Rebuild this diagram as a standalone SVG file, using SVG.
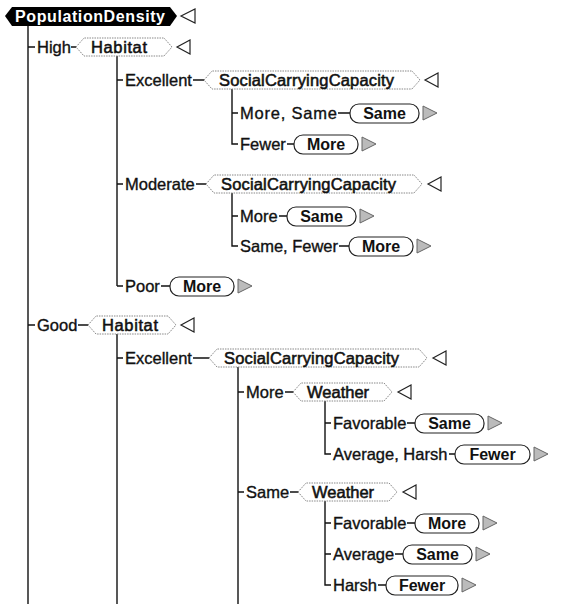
<svg xmlns="http://www.w3.org/2000/svg" width="561" height="604" viewBox="0 0 561 604">
<style>
.lbl{font-family:"Liberation Sans",Arial,sans-serif;font-size:16.5px;fill:#111;stroke:#111;stroke-width:0.35}
.nt{font-family:"Liberation Sans",Arial,sans-serif;font-size:16.5px;fill:#111;stroke:#111;stroke-width:0.55}
.pt{font-family:"Liberation Sans",Arial,sans-serif;font-size:16px;font-weight:bold;fill:#111;text-anchor:middle}
.rt{font-family:"Liberation Sans",Arial,sans-serif;font-size:16px;font-weight:bold;fill:#fff}
.hex{fill:#fff;stroke:#888;stroke-width:1;stroke-dasharray:1.5 1}
.pill{fill:#fff;stroke:#222;stroke-width:1.2}
.col{fill:#fff;stroke:#222;stroke-width:1.2}
.exp{fill:#bbb;stroke:#666;stroke-width:1}
.ln{stroke:#111;stroke-width:1.4;fill:none}
</style>
<g id="connectors" class="ln">
<path d="M28,26V604"/>
<path d="M28,47H35M71,47H76"/>
<path d="M117,56V286"/>
<path d="M117,80H123M193,80H204"/>
<path d="M232,89V144H238M232,113H238M338,113H350M287,144H294"/>
<path d="M117,184H123M196,184H206"/>
<path d="M232,193V246H238M232,216H238M279,216H287M339,246H349"/>
<path d="M117,286H123M161,286H170"/>
<path d="M28,325H35M78,325H88"/>
<path d="M117,334V604"/>
<path d="M117,358H123M193,358H209"/>
<path d="M238,367V604"/>
<path d="M238,392H244M285,392H293"/>
<path d="M325,401V454H331M325,423H331M407,423H415M449,454H455"/>
<path d="M238,492H244M290,492H298"/>
<path d="M325,501V585H331M325,523H331M325,554H331M407,523H415M395,554H403M378,585H386"/>
</g>
<g id="n-root">
<polygon points="5,16 12,7 170,7 177,16 170,26 12,26" fill="#000"/>
<text class="rt" x="15" y="21.5" textLength="150">PopulationDensity</text>
<polygon class="col" points="181,16 195,9 195,23"/>
</g>
<g id="lbl-high"><text class="lbl" x="37" y="52.5">High</text></g>
<g id="n-habitat1">
<polygon class="hex" points="76,47 84,38 164,38 172,47 164,56 84,56"/>
<text class="nt" x="91" y="52.5" textLength="56">Habitat</text>
<polygon class="col" points="177,47 190,40 190,54"/>
</g>
<g id="lbl-exc1"><text class="lbl" x="125" y="85.5">Excellent</text></g>
<g id="n-scc1">
<polygon class="hex" points="204,80 212,71 412,71 420,80 412,89 212,89"/>
<text class="nt" x="219" y="85.5" textLength="175">SocialCarryingCapacity</text>
<polygon class="col" points="425,80 438,73 438,87"/>
</g>
<g id="lbl-moresame"><text class="lbl" x="240" y="118.5" textLength="97">More, Same</text></g>
<g id="n-leaf1">
<rect class="pill" x="350" y="104" width="69" height="19" rx="9"/>
<text class="pt" x="384.5" y="118.5">Same</text>
<polygon class="exp" points="437,113 423,106 423,120"/>
</g>
<g id="lbl-fewer1"><text class="lbl" x="240" y="149.5">Fewer</text></g>
<g id="n-leaf2">
<rect class="pill" x="294" y="135" width="64" height="19" rx="9"/>
<text class="pt" x="326" y="149.5">More</text>
<polygon class="exp" points="376,144 362,137 362,151"/>
</g>
<g id="lbl-mod"><text class="lbl" x="125" y="189.5">Moderate</text></g>
<g id="n-scc2">
<polygon class="hex" points="206,184 214,175 414,175 422,184 414,193 214,193"/>
<text class="nt" x="221" y="189.5" textLength="175">SocialCarryingCapacity</text>
<polygon class="col" points="428,184 441,177 441,191"/>
</g>
<g id="lbl-more2"><text class="lbl" x="240" y="221.5">More</text></g>
<g id="n-leaf3">
<rect class="pill" x="287" y="207" width="69" height="19" rx="9"/>
<text class="pt" x="321.5" y="221.5">Same</text>
<polygon class="exp" points="374,216 360,209 360,223"/>
</g>
<g id="lbl-samefewer"><text class="lbl" x="240" y="251.5" textLength="98">Same, Fewer</text></g>
<g id="n-leaf4">
<rect class="pill" x="349" y="237" width="64" height="19" rx="9"/>
<text class="pt" x="381" y="251.5">More</text>
<polygon class="exp" points="431,246 417,239 417,253"/>
</g>
<g id="lbl-poor"><text class="lbl" x="125" y="291.5">Poor</text></g>
<g id="n-leaf5">
<rect class="pill" x="170" y="277" width="64" height="19" rx="9"/>
<text class="pt" x="202" y="291.5">More</text>
<polygon class="exp" points="252,286 238,279 238,293"/>
</g>
<g id="lbl-good"><text class="lbl" x="37" y="330.5">Good</text></g>
<g id="n-habitat2">
<polygon class="hex" points="88,325 96,316 168,316 176,325 168,334 96,334"/>
<text class="nt" x="102" y="330.5" textLength="56">Habitat</text>
<polygon class="col" points="181,325 194,318 194,332"/>
</g>
<g id="lbl-exc2"><text class="lbl" x="125" y="363.5">Excellent</text></g>
<g id="n-scc3">
<polygon class="hex" points="209,358 217,349 419,349 427,358 419,367 217,367"/>
<text class="nt" x="224" y="363.5" textLength="175">SocialCarryingCapacity</text>
<polygon class="col" points="433,358 446,351 446,365"/>
</g>
<g id="lbl-more3"><text class="lbl" x="246" y="397.5">More</text></g>
<g id="n-weather1">
<polygon class="hex" points="293,392 301,383 384,383 392,392 384,401 301,401"/>
<text class="nt" x="307" y="397.5">Weather</text>
<polygon class="col" points="398,392 411,385 411,399"/>
</g>
<g id="lbl-fav1"><text class="lbl" x="333" y="428.5">Favorable</text></g>
<g id="n-leaf6">
<rect class="pill" x="415" y="414" width="69" height="19" rx="9"/>
<text class="pt" x="449.5" y="428.5">Same</text>
<polygon class="exp" points="502,423 488,416 488,430"/>
</g>
<g id="lbl-avgharsh"><text class="lbl" x="333" y="459.5">Average, Harsh</text></g>
<g id="n-leaf7">
<rect class="pill" x="455" y="445" width="75" height="19" rx="9"/>
<text class="pt" x="492.5" y="459.5">Fewer</text>
<polygon class="exp" points="548,454 534,447 534,461"/>
</g>
<g id="lbl-same3"><text class="lbl" x="246" y="497.5">Same</text></g>
<g id="n-weather2">
<polygon class="hex" points="298,492 306,483 389,483 397,492 389,501 306,501"/>
<text class="nt" x="312" y="497.5">Weather</text>
<polygon class="col" points="403,492 416,485 416,499"/>
</g>
<g id="lbl-fav2"><text class="lbl" x="333" y="528.5">Favorable</text></g>
<g id="n-leaf8">
<rect class="pill" x="415" y="514" width="64" height="19" rx="9"/>
<text class="pt" x="447" y="528.5">More</text>
<polygon class="exp" points="497,523 483,516 483,530"/>
</g>
<g id="lbl-avg"><text class="lbl" x="333" y="559.5">Average</text></g>
<g id="n-leaf9">
<rect class="pill" x="403" y="545" width="69" height="19" rx="9"/>
<text class="pt" x="437.5" y="559.5">Same</text>
<polygon class="exp" points="490,554 476,547 476,561"/>
</g>
<g id="lbl-harsh"><text class="lbl" x="333" y="590.5">Harsh</text></g>
<g id="n-leaf10">
<rect class="pill" x="386" y="576" width="72" height="19" rx="9"/>
<text class="pt" x="422" y="590.5">Fewer</text>
<polygon class="exp" points="476,585 462,578 462,592"/>
</g>
</svg>
